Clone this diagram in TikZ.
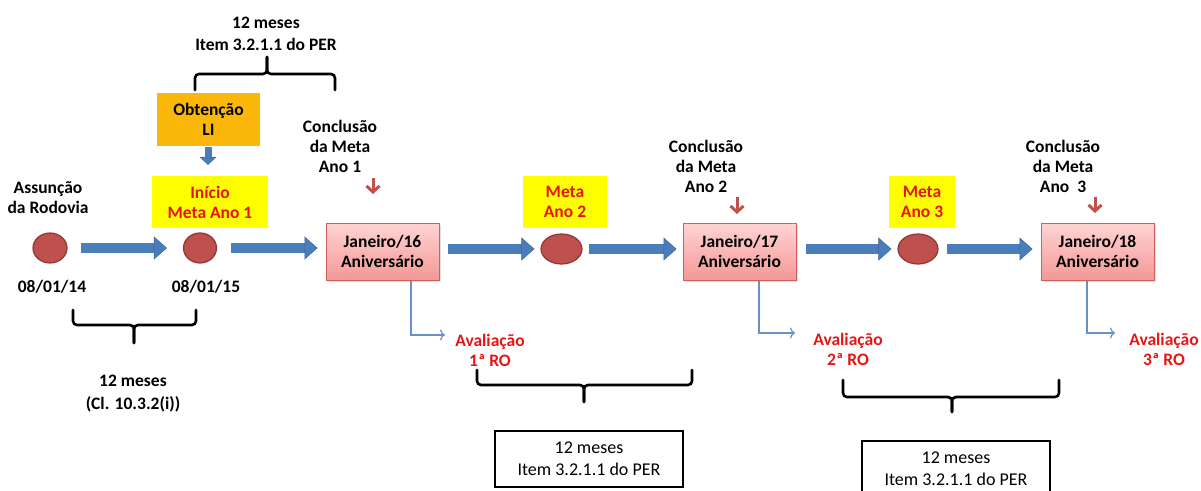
\documentclass[tikz,border=0pt]{standalone}
\usepackage{fontspec}
\setmainfont{Carlito}
\usetikzlibrary{shapes.geometric,arrows.meta,shadows}
\definecolor{arrowblue}{RGB}{74,126,187}
\definecolor{ellfill}{RGB}{192,80,77}
\definecolor{ellborder}{RGB}{140,56,54}
\definecolor{pinktop}{RGB}{255,212,212}
\definecolor{pinkbot}{RGB}{243,152,150}
\definecolor{pinkborder}{RGB}{205,95,92}
\definecolor{goldfill}{RGB}{250,183,10}
\definecolor{yell}{RGB}{255,255,0}
\definecolor{redtxt}{RGB}{230,20,20}
\definecolor{redarrow}{RGB}{192,80,77}
\definecolor{avblue}{RGB}{105,145,200}
\begin{document}
\begin{tikzpicture}[x=1pt,y=-1pt,
  every node/.style={font=\bfseries\fontsize{17.5}{20}\selectfont, align=center, inner sep=0pt},
  lbltwo/.style={font=\bfseries\fontsize{17.5}{22}\selectfont},
  redlbl/.style={text=redtxt},
  ybox/.style={fill=yell, minimum height=52pt, text=redtxt},
  obox/.style={fill=goldfill, minimum width=103pt, minimum height=53pt},
  ell/.style={ellipse, draw=ellborder, fill=ellfill, line width=1.2pt, minimum height=30pt},
  jbox/.style={rectangle, draw=pinkborder, line width=1pt, top color=pinktop, bottom color=pinkbot,
    minimum width=113pt, minimum height=57pt,
    drop shadow={opacity=0.25, shadow xshift=2pt, shadow yshift=-2pt}},
  wbox/.style={draw=black, line width=1.5pt, fill=white, minimum width=188pt, minimum height=56pt,
    font=\fontsize{18}{22}\selectfont},
  fat/.style={draw=arrowblue, line width=10pt,
    -{Triangle[length=13pt,width=23pt,line width=0.5pt,fill=arrowblue,color=arrowblue!80!black]}},
  fatdown/.style={draw=arrowblue, line width=7pt,
    -{Triangle[length=8pt,width=17pt,line width=0.5pt,fill=arrowblue,color=arrowblue!80!black]}},
  redarr/.style={draw=redarrow, line width=3pt, -{Straight Barb[length=6pt,width=13pt]}},
  avline/.style={draw=avblue, line width=1.2pt, -{To[length=5pt,width=11pt]}},
  bracel/.style={draw=black, line width=2.6pt, rounded corners=4pt, line cap=round}
]
\useasboundingbox (0,0) rectangle (1201,490);

% top label and brace
\node[lbltwo] (toptxt) at (266,34) {12 meses\\Item 3.2.1.1 do PER};
\draw[bracel] (195,90) -- (195,74) -- (267,74) -- (267,57);
\draw[bracel] (267,57) -- (267,74) -- (335,74) -- (335,90);

% Obtencao LI and Inicio
\node[obox] (obt) at (208.5,119.5) {Obtenção\\LI};
\node[ybox, minimum width=116pt] (ini) at (210,202) {Início\\Meta Ano 1};
\draw[fatdown, shorten <=1pt, shorten >=11pt] (obt.south -| 208,0) -- (ini.north -| 208,0);

% left labels
\node (assun) at (48,198) {Assunção\\da Rodovia};
\node (d14) at (52,287) {08/01/14};
\node (d15) at (206,287) {08/01/15};

% ellipses and boxes
\node[ell, minimum width=34pt] (e1) at (50,248) {};
\node[ell, minimum width=33pt] (e2) at (200,248) {};
\node[jbox] (j16) at (382.5,251.5) {Janeiro/16\\Aniversário};
\node[ell, minimum width=41pt] (e3) at (561.5,249) {};
\node[jbox] (j17) at (739.5,251.5) {Janeiro/17\\Aniversário};
\node[ell, minimum width=40pt] (e4) at (918,249) {};
\node[jbox] (j18) at (1097.5,251.5) {Janeiro/18\\Aniversário};

% yellow meta boxes
\node[ybox, minimum width=84pt] (m2) at (565,202) {Meta\\Ano 2};
\node[ybox, minimum width=66pt] (m3) at (922,202) {Meta\\Ano 3};

% fat arrows
\draw[fat, shorten <=13pt, shorten >=16pt] (e1.east) -- (e2.west);
\draw[fat, shorten <=14pt, shorten >=8pt] (e2.east) -- (e2.east -| j16.west);
\draw[fat, shorten <=8pt, shorten >=6pt] (j16.east |- e3.west) -- (e3.west);
\draw[fat, shorten <=6pt, shorten >=6pt] (e3.east) -- (e3.east -| j17.west);
\draw[fat, shorten <=9pt, shorten >=6pt] (j17.east |- e4.west) -- (e4.west);
\draw[fat, shorten <=8pt, shorten >=8pt] (e4.east) -- (e4.east -| j18.west);

% conclusao labels
\node (c1) at (340,146) {Conclusão\\da Meta\\Ano 1};
\node (c2) at (706,166) {Conclusão\\da Meta\\Ano 2};
\node (c3) at (1063,166) {Conclusão\\da Meta\\Ano~ 3};
\coordinate (r1a) at (373,178); \coordinate (r1b) at (373,194);
\coordinate (r2a) at (737,197); \coordinate (r2b) at (737,214);
\coordinate (r3a) at (1095,197); \coordinate (r3b) at (1095,213);
\draw[redarr] (r1a) -- (r1b);
\draw[redarr] (r2a) -- (r2b);
\draw[redarr] (r3a) -- (r3b);

% avaliacao
\node[redlbl] (av1) at (490,350) {Avaliação\\1ª RO};
\node[redlbl] (av2) at (848,349) {Avaliação\\2ª RO};
\node[redlbl] (av3) at (1164,349) {Avaliação\\3ª RO};
\coordinate (t1) at (445,335);
\coordinate (t2) at (795,333);
\coordinate (t3) at (1115,333);
\draw[avline] (j16.south -| 411,0) |- (t1);
\draw[avline] (j17.south -| 759,0) |- (t2);
\draw[avline] (j18.south -| 1087,0) |- (t3);

% bottom left brace
\draw[bracel] (73,310) -- (73,325) -- (134,325) -- (134,343);
\draw[bracel] (134,343) -- (134,325) -- (196,325) -- (196,310);
\node[font=\bfseries\fontsize{17.5}{23}\selectfont] (b0) at (133,394) {12 meses\\(Cl. 10.3.2(i))};

% brace 2 and box
\draw[bracel] (477,370) -- (477,385) -- (584,385) -- (584,402);
\draw[bracel] (584,402) -- (584,385) -- (692,385) -- (692,370);
\node[wbox] (bx1) at (589,459) {12 meses\\Item 3.2.1.1 do PER};

% brace 3 and box
\draw[bracel] (843,380) -- (843,397) -- (952,397) -- (952,412);
\draw[bracel] (952,412) -- (952,397) -- (1059,397) -- (1059,380);
\node[wbox] (bx2) at (956,469) {12 meses\\Item 3.2.1.1 do PER};
\end{tikzpicture}
\end{document}
